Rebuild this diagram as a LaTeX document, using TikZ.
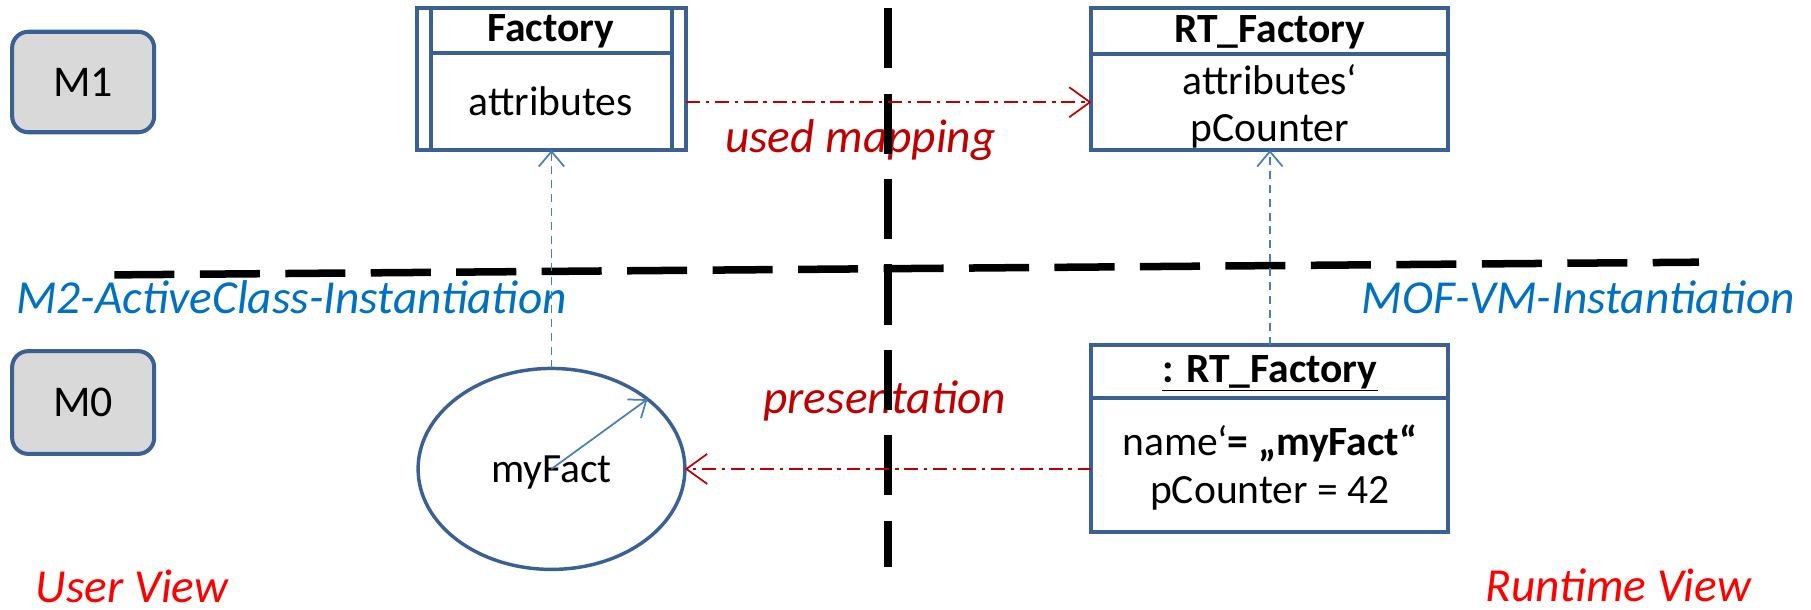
\documentclass[tikz,border=0pt]{standalone}
\usepackage{fontspec}
\setmainfont{Carlito}
\usetikzlibrary{arrows.meta,shapes.geometric,calc}
\definecolor{boxblue}{HTML}{3B6194}
\definecolor{boxgray}{HTML}{D9D9D9}
\definecolor{linkblue}{HTML}{4A7EBB}
\definecolor{labelblue}{HTML}{0070C0}
\definecolor{darkred}{HTML}{C00000}
\definecolor{brightred}{HTML}{FF0000}

\begin{document}
\begin{tikzpicture}[x=1pt,y=-1pt,
  every node/.style={inner sep=0pt, outer sep=0pt},
  levelbox/.style={draw=boxblue, fill=boxgray, line width=3.5pt, rounded corners=14pt,
    minimum width=123pt, minimum height=87pt, font=\fontsize{38}{46}\selectfont},
  umlbox/.style={draw=boxblue, line width=3.5pt},
  umlline/.style={draw=boxblue, line width=3.5pt},
  boxtext/.style={font=\fontsize{36}{43}\selectfont},
  bigdash/.style={line width=6.5pt, dash pattern=on 52pt off 22pt},
  instof/.style={draw=linkblue, line width=1.5pt, dash pattern=on 7pt off 5pt,
    -{Straight Barb[length=13pt,width=22pt]}},
  mapping/.style={draw=darkred, line width=1.5pt, dash pattern=on 12pt off 5pt on 3pt off 5pt,
    -{Straight Barb[length=18pt,width=26pt]}},
  tag/.style={font=\fontsize{41}{49}\selectfont\itshape},
]
\useasboundingbox (0,0) rectangle (1568,528);

% labels
\node[tag, text=darkred] (usedmap) at (745,121) {used mapping};
\node[tag, text=darkred] (pres) at (766,347) {presentation};
\node[tag, text=labelblue, anchor=west] (m2lab) at (14,257) {M2-ActiveClass-Instantiation};
\node[tag, text=labelblue, anchor=east] (moflab) at (1554,257) {MOF-VM-Instantiation};
\node[tag, text=brightred, anchor=west] (uview) at (31,508) {User View};
\node[tag, text=brightred, anchor=east] (rview) at (1516,507) {Runtime View};

% separating dashed lines
\coordinate (vtop) at (769,7);
\coordinate (vbot) at (769,491);
\coordinate (hleft) at (99,238);
\coordinate (hright) at (1471,227);
\draw[bigdash] (vtop) -- (vbot);
\draw[bigdash] (hleft) -- (hright);

% meta levels
\node[levelbox] (m1) at (72,71) {M1};
\node[levelbox, minimum height=89pt] (m0) at (72,348.5) {M0};

% active class Factory
\node[umlbox, minimum width=233pt, minimum height=123pt] (fac) at (477.5,68.5) {};
\draw[umlline] ([xshift=12pt]fac.north west) -- ([xshift=12pt]fac.south west);
\draw[umlline] ([xshift=-12pt]fac.north east) -- ([xshift=-12pt]fac.south east);
\draw[umlline] ([xshift=12pt,yshift=-39pt]fac.north west) -- ([xshift=-12pt,yshift=-39pt]fac.north east);
\node[boxtext, font=\fontsize{36}{43}\selectfont\bfseries] (facname) at (477,27) {Factory};
\node[boxtext] (facattr) at (477,88) {attributes};

% runtime class RT_Factory
\node[umlbox, minimum width=309pt, minimum height=123pt] (rtcls) at (1099.5,68.5) {};
\draw[umlline] ([yshift=-40pt]rtcls.north west) -- ([yshift=-40pt]rtcls.north east);
\node[boxtext, font=\fontsize{36}{43}\selectfont\bfseries] (rtname) at (1099.5,28) {RT\_Factory};
\node[boxtext] (rtattr) at (1099.5,69) {attributes‘};
\node[boxtext] (rtcnt) at (1099.5,114) {pCounter};

% runtime object
\node[umlbox, minimum width=309pt, minimum height=162pt] (rtobj) at (1099.5,380) {};
\draw[umlline] ([yshift=-46pt]rtobj.north west) -- ([yshift=-46pt]rtobj.north east);
\node[boxtext, font=\fontsize{36}{43}\selectfont\bfseries] (objname) at (1099.5,323) {\underline{: RT\_Factory}};
\node[boxtext] (objattr) at (1099.5,384) {name‘\textbf{= „myFact“}};
\node[boxtext] (objcnt) at (1099.5,427) {pCounter = 42};

% user view object
\node[draw=boxblue, line width=3pt, ellipse, minimum width=231pt, minimum height=174pt] (ell) at (477.5,406) {};
\node[boxtext] (ellname) at (477.5,409) {myFact};
\draw[linkblue, line width=1.5pt, -{Straight Barb[length=13pt,width=20pt]}] (ell.center) -- (ell.36);

% connectors
\draw[instof] (ell.north) -- (fac.south);
\draw[instof] (rtobj.north) -- (rtcls.south);
\draw[mapping] ([yshift=-20pt]fac.east) -- ([yshift=-20pt]rtcls.west);
\draw[mapping] (rtobj.west |- ell.center) -- (ell.east);
\end{tikzpicture}
\end{document}
